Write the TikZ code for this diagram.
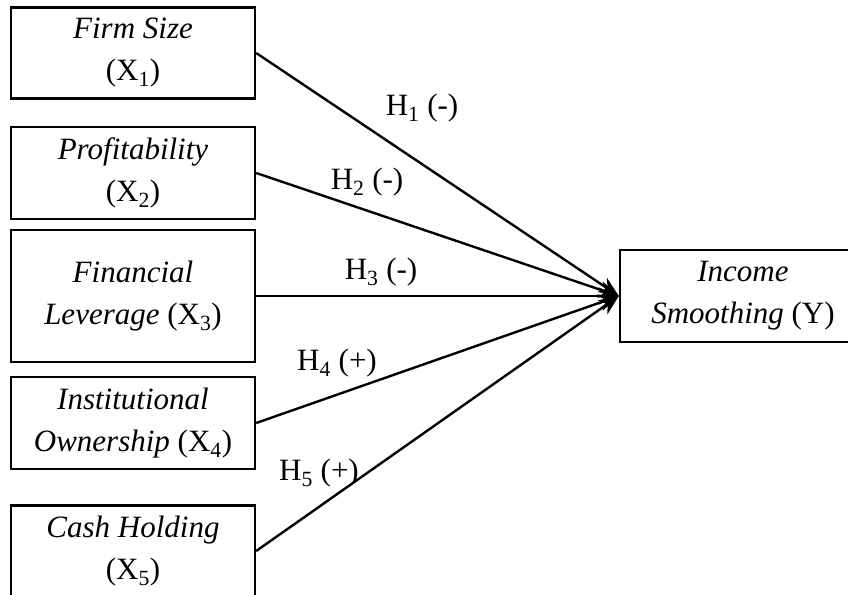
\documentclass[tikz,border=0pt]{standalone}
\usepackage{fontspec}
\setmainfont{Liberation Serif}
\usetikzlibrary{arrows.meta}
\begin{document}
\begin{tikzpicture}[x=1pt,y=-1pt,
  varbox/.style={draw,line width=2.4pt,minimum width=244pt,inner sep=0pt,align=center,
    font=\fontsize{31}{42}\selectfont},
  hlabel/.style={font=\fontsize{31}{38}\selectfont,inner sep=0pt},
  path/.style={line width=2.4pt,-{Stealth[length=20pt,width=17pt]}}]
\useasboundingbox (0,0) rectangle (848,594);
\clip (0,0) rectangle (848,594);
\node[varbox,minimum height=91pt] (x1) at (133,53) {\textit{Firm Size}\\(X\textsubscript{1})};
\node[varbox,minimum height=92pt] (x2) at (133,173) {\textit{Profitability}\\(X\textsubscript{2})};
\node[varbox,minimum height=132pt] (x3) at (133,296) {\textit{Financial}\\\textit{Leverage} (X\textsubscript{3})};
\node[varbox,minimum height=92pt] (x4) at (133,423) {\textit{Institutional}\\\textit{Ownership} (X\textsubscript{4})};
\node[varbox,minimum height=91pt] (x5) at (133,551) {\textit{Cash Holding}\\(X\textsubscript{5})};
\node[varbox,minimum width=246pt,minimum height=92pt] (y) at (743,296) {\textit{Income}\\\textit{Smoothing} (Y)};
\draw[path] (x1.east) -- (y.west);
\draw[path] (x2.east) -- (y.west);
\draw[path] (x3.east) -- (y.west);
\draw[path] (x4.east) -- (y.west);
\draw[path] (x5.east) -- (y.west);
\node[hlabel] (h1) at (422,108) {H\textsubscript{1} (-)};
\node[hlabel] (h2) at (367,182) {H\textsubscript{2} (-)};
\node[hlabel] (h3) at (381,272) {H\textsubscript{3} (-)};
\node[hlabel] (h4) at (337,363) {H\textsubscript{4} (+)};
\node[hlabel] (h5) at (319,473) {H\textsubscript{5} (+)};
\end{tikzpicture}
\end{document}
